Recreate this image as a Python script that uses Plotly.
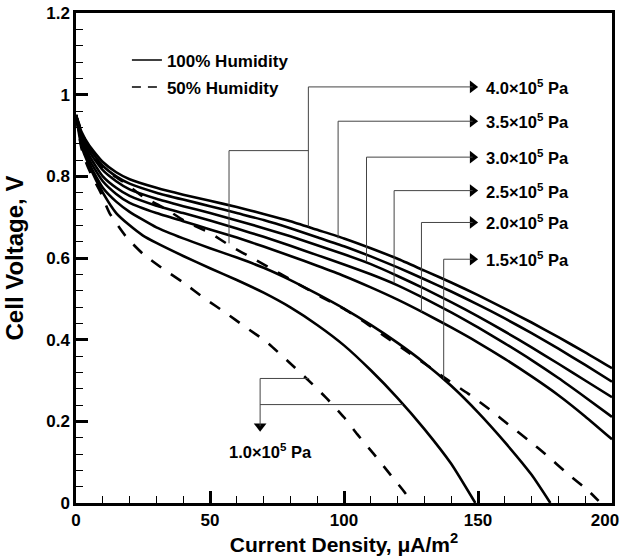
import plotly.graph_objects as go

FONT = "Liberation Sans, Arial, sans-serif"

# ---------------- data ----------------
x_ticks = [0, 50, 100, 150, 200]
x_ticktext = ["0", "50", "100", "150", "200\u00a0\u00a0\u00a0"]

# 100 % humidity, common current-density grid
x_hi = [0, 2, 5, 10, 15, 20, 30, 40, 50, 60, 70, 80, 90, 100, 110, 120, 130, 140, 150, 160, 170, 180, 190, 200]
v_40 = [0.95, 0.91, 0.875, 0.835, 0.81, 0.793, 0.772, 0.755, 0.740, 0.725, 0.708, 0.69, 0.669, 0.648, 0.624, 0.598, 0.569, 0.54, 0.509, 0.476, 0.442, 0.406, 0.369, 0.33]
v_35 = [0.95, 0.905, 0.868, 0.826, 0.80, 0.782, 0.76, 0.743, 0.727, 0.71, 0.693, 0.673, 0.651, 0.629, 0.604, 0.577, 0.548, 0.518, 0.486, 0.452, 0.416, 0.378, 0.338, 0.297]
v_30 = [0.95, 0.90, 0.86, 0.815, 0.788, 0.768, 0.745, 0.727, 0.71, 0.692, 0.673, 0.653, 0.631, 0.609, 0.585, 0.556, 0.525, 0.492, 0.457, 0.42, 0.381, 0.341, 0.30, 0.259]
v_25 = [0.95, 0.895, 0.85, 0.80, 0.772, 0.752, 0.728, 0.71, 0.692, 0.672, 0.652, 0.63, 0.607, 0.584, 0.56, 0.533, 0.501, 0.467, 0.43, 0.391, 0.35, 0.306, 0.259, 0.211]
v_20 = [0.95, 0.89, 0.84, 0.788, 0.757, 0.735, 0.71, 0.69, 0.67, 0.65, 0.628, 0.605, 0.581, 0.556, 0.528, 0.498, 0.465, 0.43, 0.393, 0.353, 0.31, 0.264, 0.212, 0.156]

x_15 = [0, 2, 5, 10, 15, 20, 30, 40, 50, 60, 70, 80, 90, 100, 110, 120, 130, 140, 150, 160, 170, 177]
v_15 = [0.95, 0.885, 0.83, 0.772, 0.738, 0.713, 0.675, 0.648, 0.624, 0.601, 0.576, 0.546, 0.512, 0.476, 0.436, 0.392, 0.343, 0.287, 0.222, 0.149, 0.069, 0.0]

x_10 = [0, 2, 5, 10, 15, 20, 25, 30, 40, 50, 60, 70, 80, 90, 100, 110, 120, 130, 140, 149]
v_10 = [0.95, 0.875, 0.825, 0.76, 0.71, 0.68, 0.655, 0.637, 0.605, 0.575, 0.546, 0.515, 0.479, 0.436, 0.386, 0.325, 0.257, 0.181, 0.096, 0.0]

# 50 % humidity
x_10d = [0, 2, 4, 6, 9, 12.5, 18.7, 25, 33, 40, 48, 56, 63, 71, 78.6, 86, 93, 100, 105, 111, 117, 123, 125]
v_10d = [0.95, 0.87, 0.83, 0.80, 0.763, 0.71, 0.652, 0.61, 0.571, 0.54, 0.501, 0.465, 0.432, 0.395, 0.35, 0.305, 0.26, 0.21, 0.168, 0.121, 0.072, 0.023, 0.0]

x_40d = [0, 3, 6, 10, 14, 18, 25, 33, 41, 50, 58, 66, 75, 83, 91.4, 99.5, 107, 114.6, 122, 130.8, 138.8, 146.3, 154.4, 161.8, 168.6, 176, 183, 191, 195]
v_40d = [0.95, 0.895, 0.855, 0.822, 0.802, 0.785, 0.75, 0.722, 0.689, 0.661, 0.628, 0.599, 0.566, 0.536, 0.505, 0.477, 0.446, 0.411, 0.378, 0.338, 0.301, 0.268, 0.229, 0.19, 0.155, 0.115, 0.074, 0.031, 0.005]

# pressure labels and their leader lines
lbl_text = ["4.0×10<sup>5</sup> Pa", "3.5×10<sup>5</sup> Pa", "3.0×10<sup>5</sup> Pa",
            "2.5×10<sup>5</sup> Pa", "2.0×10<sup>5</sup> Pa", "1.5×10<sup>5</sup> Pa"]
lbl_y = [1.019, 0.935, 0.847, 0.765, 0.687, 0.597]
lead_x = [86.7, 97.8, 108.4, 118.7, 128.9, 137.2]
lead_end = [0.677, 0.648, 0.591, 0.538, 0.468, 0.303]
tip_x = 148.0
lbl_x = 152.3

# extra leader for the 50 % / 4.0 curve
extra_x = [57.1, 86.7]
extra_y = [0.636, 0.863]

# 1.0 label
low_text = "1.0×10<sup>5</sup> Pa"
low_x = 68.7
low_y_top = 0.305
low_tip_y = 0.188
low_h1_end = 87.0
low_h2_y = 0.241
low_h2_end = 122.0
low_lbl = (72.4, 0.128)

# ---------------- figure ----------------
fig = go.Figure()
DASH = "12px,12px"
W = 2.6
LS = dict(shape="spline", smoothing=0.5)
for xs, ys in [(x_hi, v_40), (x_hi, v_35), (x_hi, v_30), (x_hi, v_25), (x_hi, v_20), (x_15, v_15), (x_10, v_10)]:
    fig.add_trace(go.Scatter(x=xs, y=ys, mode="lines", line=dict(color="black", width=W, **LS),
                             showlegend=False, hoverinfo="skip"))
for xs, ys in [(x_10d, v_10d), (x_40d, v_40d)]:
    fig.add_trace(go.Scatter(x=xs, y=ys, mode="lines", line=dict(color="black", width=W, dash=DASH, **LS),
                             showlegend=False, hoverinfo="skip"))

# legend entries
fig.add_trace(go.Scatter(x=[None], y=[None], mode="lines", name="100% Humidity", legendgroup="a",
                         line=dict(color="black", width=1.6)))
fig.add_trace(go.Scatter(x=[None], y=[None], mode="lines", name="50% Humidity", legendgroup="b",
                         line=dict(color="black", width=1.6, dash="9px,7px")))

# arrowheads
fig.add_trace(go.Scatter(x=[tip_x] * len(lbl_y), y=lbl_y, mode="markers",
                         marker=dict(symbol="triangle-right", size=11, color="black", line=dict(width=0)),
                         showlegend=False, hoverinfo="skip", cliponaxis=False))
fig.add_trace(go.Scatter(x=[low_x], y=[low_tip_y], mode="markers",
                         marker=dict(symbol="triangle-down", size=11, color="black", line=dict(width=0)),
                         showlegend=False, hoverinfo="skip"))

LC = "#444444"
shapes = []
for lx, ly, le in zip(lead_x, lbl_y, lead_end):
    shapes.append(dict(type="line", xref="x", yref="y", x0=lx, x1=tip_x, y0=ly, y1=ly, line=dict(color=LC, width=1)))
    shapes.append(dict(type="line", xref="x", yref="y", x0=lx, x1=lx, y0=ly, y1=le, line=dict(color=LC, width=1)))
shapes.append(dict(type="line", xref="x", yref="y", x0=extra_x[0], x1=extra_x[1], y0=extra_y[1], y1=extra_y[1], line=dict(color=LC, width=1)))
shapes.append(dict(type="line", xref="x", yref="y", x0=extra_x[0], x1=extra_x[0], y0=extra_y[1], y1=extra_y[0], line=dict(color=LC, width=1)))
shapes.append(dict(type="line", xref="x", yref="y", x0=low_x, x1=low_x, y0=low_y_top, y1=low_tip_y, line=dict(color=LC, width=1)))
shapes.append(dict(type="line", xref="x", yref="y", x0=low_x, x1=low_h1_end, y0=low_y_top, y1=low_y_top, line=dict(color=LC, width=1)))
shapes.append(dict(type="line", xref="x", yref="y", x0=low_x, x1=low_h2_end, y0=low_h2_y, y1=low_h2_y, line=dict(color=LC, width=1)))

ann = []
LF = dict(family=FONT, size=16.5, color="black", weight="bold")
for t, ly in zip(lbl_text, lbl_y):
    ann.append(dict(x=lbl_x, y=ly, xref="x", yref="y", text=t, showarrow=False, xanchor="left", yanchor="middle", font=LF))
ann.append(dict(x=low_lbl[0], y=low_lbl[1], xref="x", yref="y", text=low_text, showarrow=False,
                xanchor="center", yanchor="middle", font=LF))

TF = dict(family=FONT, size=17, color="black", weight="bold")
fig.update_layout(
    width=624, height=557,
    margin=dict(l=76, r=12, t=13, b=54),
    plot_bgcolor="white", paper_bgcolor="white",
    font=dict(family=FONT, color="black"),
    shapes=shapes, annotations=ann,
    legend=dict(x=0.095, y=0.94, xanchor="left", yanchor="top", bgcolor="rgba(0,0,0,0)",
                font=dict(family=FONT, size=17, color="black", weight="bold"),
                traceorder="grouped", tracegroupgap=2),
    xaxis=dict(range=[0, 200], showline=True, linewidth=2.5, linecolor="black", mirror=True, automargin=False,
               ticks="inside", ticklen=12, tickwidth=2.5, tickcolor="black",
               tickmode="array", tickvals=x_ticks, ticktext=x_ticktext,
               ticklabeloverflow="allow",
               minor=dict(dtick=10, tick0=0, ticks="inside", ticklen=7, tickwidth=1, tickcolor="black"),
               showgrid=False, zeroline=False, tickfont=TF,
               title=dict(text="Current Density, μA/m<sup>2</sup>", font=dict(family=FONT, size=21, color="black", weight="bold"), standoff=6)),
    yaxis=dict(range=[0, 1.2], showline=True, linewidth=2.5, linecolor="black", mirror=True, automargin=False,
               ticks="inside", ticklen=12, tickwidth=2.5, tickcolor="black", dtick=0.2, tick0=0,
               ticklabeloverflow="allow",
               minor=dict(dtick=0.04, ticks="inside", ticklen=7, tickwidth=1, tickcolor="black"),
               showgrid=False, zeroline=False, tickfont=TF,
               title=dict(text="Cell Voltage, V", font=dict(family=FONT, size=24, color="black", weight="bold"), standoff=16)),
)
fig.write_html("out.html")
